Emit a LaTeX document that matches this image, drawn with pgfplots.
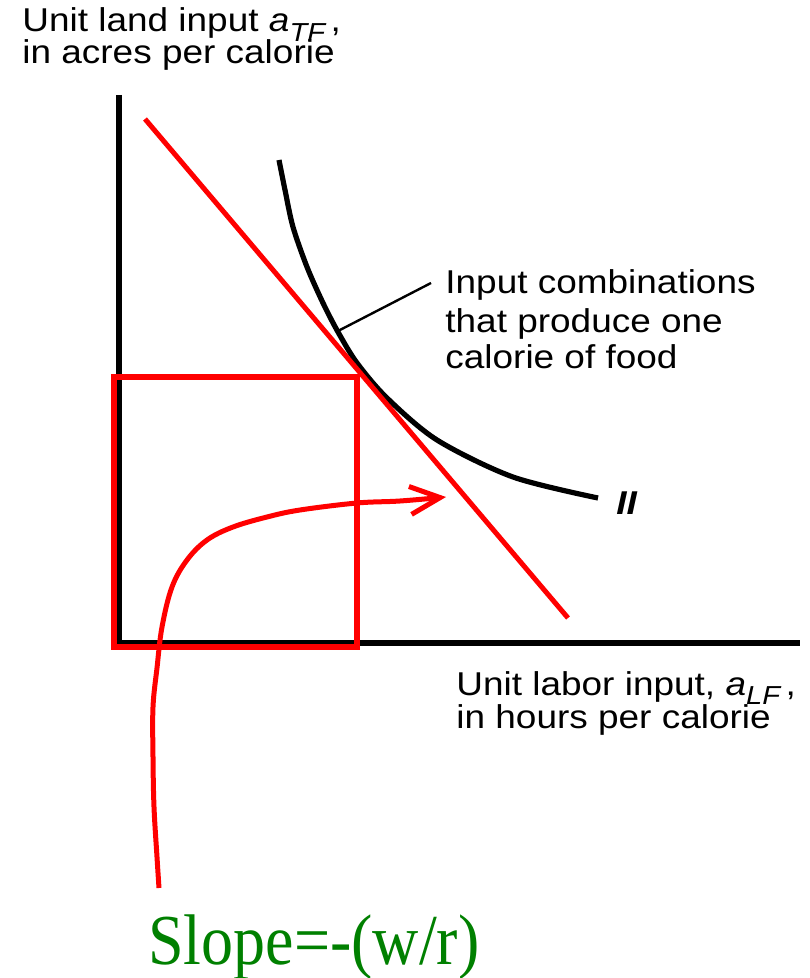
\documentclass[border=0pt]{standalone}
\usepackage{pgfplots}
\pgfplotsset{compat=1.18}
\usetikzlibrary{arrows.meta}
\usepackage{fontspec}
\setmainfont{Liberation Sans}
\newfontfamily\lab[FakeStretch=1.12]{Liberation Sans}
\newfontfamily\tms{Liberation Serif}
\definecolor{dkgreen}{RGB}{0,128,0}
\newcommand{\sub}[1]{\raisebox{-0.3em}{\fontsize{13}{13}\selectfont\itshape #1}}
\begin{document}
\begin{tikzpicture}
\begin{axis}[
  width=404.5pt, height=489pt, scale only axis,
  xmin=0, xmax=809, ymin=0, ymax=978, y dir=reverse,
  hide axis, clip=false,
]
% axes (black L)
\addplot[black, line width=2.8pt, line join=miter] coordinates {(119,95) (119,643) (800,643)};
% isoquant
\addplot[black, line width=2.6pt, smooth] coordinates {
 (279,160) (285,190) (293,227) (307,267) (323,303) (338,332) (357,363) (387,398) (437,440) (513,477) (598,498)};
% leader line
\addplot[black, line width=1.2pt] coordinates {(338,331) (431,283)};
% budget / isocost line
\addplot[red, line width=2.5pt] coordinates {(145,119) (568,618)};
% rectangle
\addplot[red, line width=2.8pt, line join=miter] coordinates {(114,377) (357,377) (357,647) (114,647)} -- cycle;
% curved arrow
\addplot[red, line width=2.5pt, smooth, tension=0.6, -{Straight Barb[length=15pt,width=14pt,line width=2.5pt]}] coordinates {
 (159,888) (157,857) (154,807) (153,757) (153,707) (157,668) (162,627) (172,587) (187,560) (207,540) (233,527) (267,517) (300,510) (357,503) (400,501) (446,497)};
% texts
\node[anchor=base west, inner sep=0] at (axis cs:22,32) {\lab\fontsize{16.5}{19}\selectfont Unit land input \textit{a}\sub{TF}\,,};
\node[anchor=base west, inner sep=0] at (axis cs:22,64) {\lab\fontsize{16.5}{19}\selectfont in acres per calorie};
\node[anchor=base west, inner sep=0] at (axis cs:445,293) {\lab\fontsize{16.5}{19}\selectfont Input combinations};
\node[anchor=base west, inner sep=0] at (axis cs:445,332) {\lab\fontsize{16.5}{19}\selectfont that produce one};
\node[anchor=base west, inner sep=0] at (axis cs:445,368) {\lab\fontsize{16.5}{19}\selectfont calorie of food};
\node[anchor=base west, inner sep=0] at (axis cs:456,695) {\lab\fontsize{16.5}{19}\selectfont Unit labor input, \textit{a}\sub{LF}\,,};
\node[anchor=base west, inner sep=0] at (axis cs:456,728) {\lab\fontsize{16.5}{19}\selectfont in hours per calorie};
\node[anchor=base west, inner sep=0] at (axis cs:616,514) {\lab\fontsize{16.5}{19}\selectfont\bfseries\itshape II};
\node[anchor=base west, inner sep=0, text=dkgreen] at (axis cs:148,964) {\scalebox{1}[1.12]{\tms\fontsize{32}{32}\selectfont Slope=-(w/r)}};
\coordinate (bl) at (axis cs:0,978);
\coordinate (tr) at (axis cs:809,0);
\end{axis}
\pgfresetboundingbox
\path (bl) rectangle (tr);
\end{tikzpicture}
\end{document}
